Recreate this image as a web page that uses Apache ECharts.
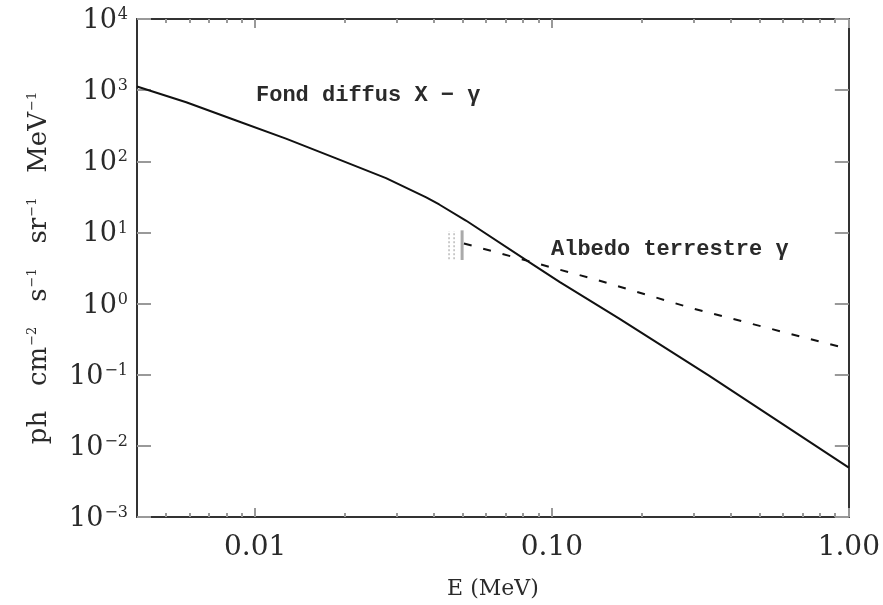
<!DOCTYPE html>
<html><head><meta charset="utf-8">
<script src="https://cdn.jsdelivr.net/npm/echarts@6/dist/echarts.min.js"></script>
<style>html,body{margin:0;padding:0;background:#fff}#c{width:883px;height:605px}</style>
</head><body><div id="c"></div>
<script>
// Data
const xMin = 0.004, xMax = 1.0, yMin = 1e-3, yMax = 1e4;
const xMajorTicks = [0.01, 0.1, 1.0];
const xMajorLabels = ['0.01', '0.10', '1.00'];
const xMinorTicks = [0.005,0.006,0.007,0.008,0.009,0.02,0.03,0.04,0.05,0.06,0.07,0.08,0.09,0.2,0.3,0.4,0.5,0.6,0.7,0.8,0.9];
const yMajorTicks = [1e-3, 1e-2, 1e-1, 1e0, 1e1, 1e2, 1e3, 1e4];
const yExponents = ['−3', '−2', '−1', '0', '1', '2', '3', '4'];
// Fond diffus X-gamma (solid)
const diffusE   = [0.004, 0.00586, 0.00863, 0.0127, 0.01875, 0.0276, 0.0377, 0.0417, 0.0513, 0.0838, 0.106, 0.168, 0.338, 1.0];
const diffusVal = [1125, 675, 375, 208, 110, 58, 31, 24.7, 14.7, 3.83, 2.02, 0.62, 0.097, 0.00494];
// Albedo terrestre gamma (dashed)
const albedoE   = [0.0505, 0.137, 0.296, 1.0];
const albedoVal = [7.0, 2.24, 0.86, 0.229];
// measured points (grey error bars)
const barE    = [0.045, 0.0468, 0.0498];
const barLow  = [4.2, 4.2, 4.1];
const barHigh = [10.5, 10.5, 10.7];
const barStyle = ['dotted', 'dotted', 'solid'];

const chart = echarts.init(document.getElementById('c'));
const serif = 'DejaVu Serif';
const axisCol = '#333';
const tickCol = '#999';
const textCol = '#2a2a2a';

function xAxisDef(pos, ticks, len, labels, showLine) {
  return {
    type: 'log', min: xMin, max: xMax, position: pos,
    axisLine: {show: showLine, onZero: false, lineStyle: {color: axisCol, width: 2}},
    splitLine: {show: false},
    axisTick: {show: true, inside: true, length: len, customValues: ticks, lineStyle: {color: tickCol, width: 2}},
    axisLabel: labels ? {
      show: true, customValues: xMajorTicks, margin: 17,
      fontFamily: serif, fontSize: 28, color: textCol,
      formatter: v => xMajorLabels[xMajorTicks.findIndex(t => Math.abs(Math.log10(t) - Math.log10(v)) < 1e-6)]
    } : {show: false}
  };
}

function yLabel(v) {
  const i = yMajorTicks.findIndex(t => Math.abs(Math.log10(t) - Math.log10(v)) < 1e-6);
  return '{b|10}{s|' + yExponents[i] + '}';
}

const option = {
  animation: false,
  backgroundColor: '#fff',
  grid: {left: 137, right: 33, top: 19, bottom: 82, containLabel: false},
  xAxis: [
    Object.assign(xAxisDef('bottom', xMajorTicks, 9, true, true), {
      name: 'E (MeV)', nameLocation: 'middle', nameGap: 61,
      nameTextStyle: {fontFamily: serif, fontSize: 22, color: textCol}
    }),
    xAxisDef('bottom', xMinorTicks, 4, false, false),
    xAxisDef('top', xMajorTicks, 9, false, true),
    xAxisDef('top', xMinorTicks, 4, false, false)
  ],
  yAxis: [
    {
      type: 'log', min: yMin, max: yMax, position: 'left',
      axisLine: {show: true, onZero: false, lineStyle: {color: axisCol, width: 2}},
      splitLine: {show: false},
      axisTick: {show: true, inside: true, length: 14, customValues: yMajorTicks, lineStyle: {color: tickCol, width: 2}},
      axisLabel: {
        show: true, customValues: yMajorTicks, margin: 9, formatter: yLabel,
        rich: {
          b: {fontFamily: serif, fontSize: 27, color: textCol, lineHeight: 30, padding: [4, 0, 0, 0]},
          s: {fontFamily: serif, fontSize: 16, color: textCol, lineHeight: 20, padding: [0, 0, 8, 1]}
        }
      },
      name: 'ph   cm{s|−2}   s{s|−1}   sr{s|−1}   MeV{s|−1}',
      nameLocation: 'middle', nameGap: 84, nameRotate: 90,
      nameTextStyle: {
        fontFamily: serif, fontSize: 26, color: textCol,
        rich: {s: {fontFamily: serif, fontSize: 13, color: textCol, padding: [0, 0, 14, 1]}}
      }
    },
    {
      type: 'log', min: yMin, max: yMax, position: 'right',
      axisLine: {show: true, onZero: false, lineStyle: {color: axisCol, width: 2}},
      splitLine: {show: false},
      axisTick: {show: true, inside: true, length: 14, customValues: yMajorTicks, lineStyle: {color: tickCol, width: 2}},
      axisLabel: {show: false}
    }
  ],
  graphic: [
    {type: 'text', left: 256, top: 84, style: {text: 'Fond diffus X − γ', font: 'bold 22px "Liberation Mono"', fill: textCol}},
    {type: 'text', left: 551, top: 238, style: {text: 'Albedo terrestre γ', font: 'bold 22px "Liberation Mono"', fill: textCol}}
  ],
  series: [
    {
      type: 'line', xAxisIndex: 0, yAxisIndex: 0, showSymbol: false, smooth: false,
      data: diffusE.map((e, i) => [e, diffusVal[i]]),
      lineStyle: {color: '#111', width: 2}
    },
    {
      type: 'line', xAxisIndex: 0, yAxisIndex: 0, showSymbol: false,
      data: albedoE.map((e, i) => [e, albedoVal[i]]),
      lineStyle: {color: '#111', width: 2, type: [8, 12]}
    },
    {
      type: 'custom', xAxisIndex: 0, yAxisIndex: 0,
      data: barE.map((e, i) => [e, barLow[i], barHigh[i], i]),
      renderItem: function (params, api) {
        const p1 = api.coord([api.value(0), api.value(1)]);
        const p2 = api.coord([api.value(0), api.value(2)]);
        const st = barStyle[api.value(3)];
        return {
          type: 'line',
          shape: {x1: p1[0], y1: p1[1], x2: p2[0], y2: p2[1]},
          style: {stroke: st === 'solid' ? '#aaa' : '#bbb', lineWidth: st === 'solid' ? 3 : 1.5, lineDash: st === 'solid' ? null : [2, 2]}
        };
      }
    }
  ]
};
chart.setOption(option);
</script></body></html>
